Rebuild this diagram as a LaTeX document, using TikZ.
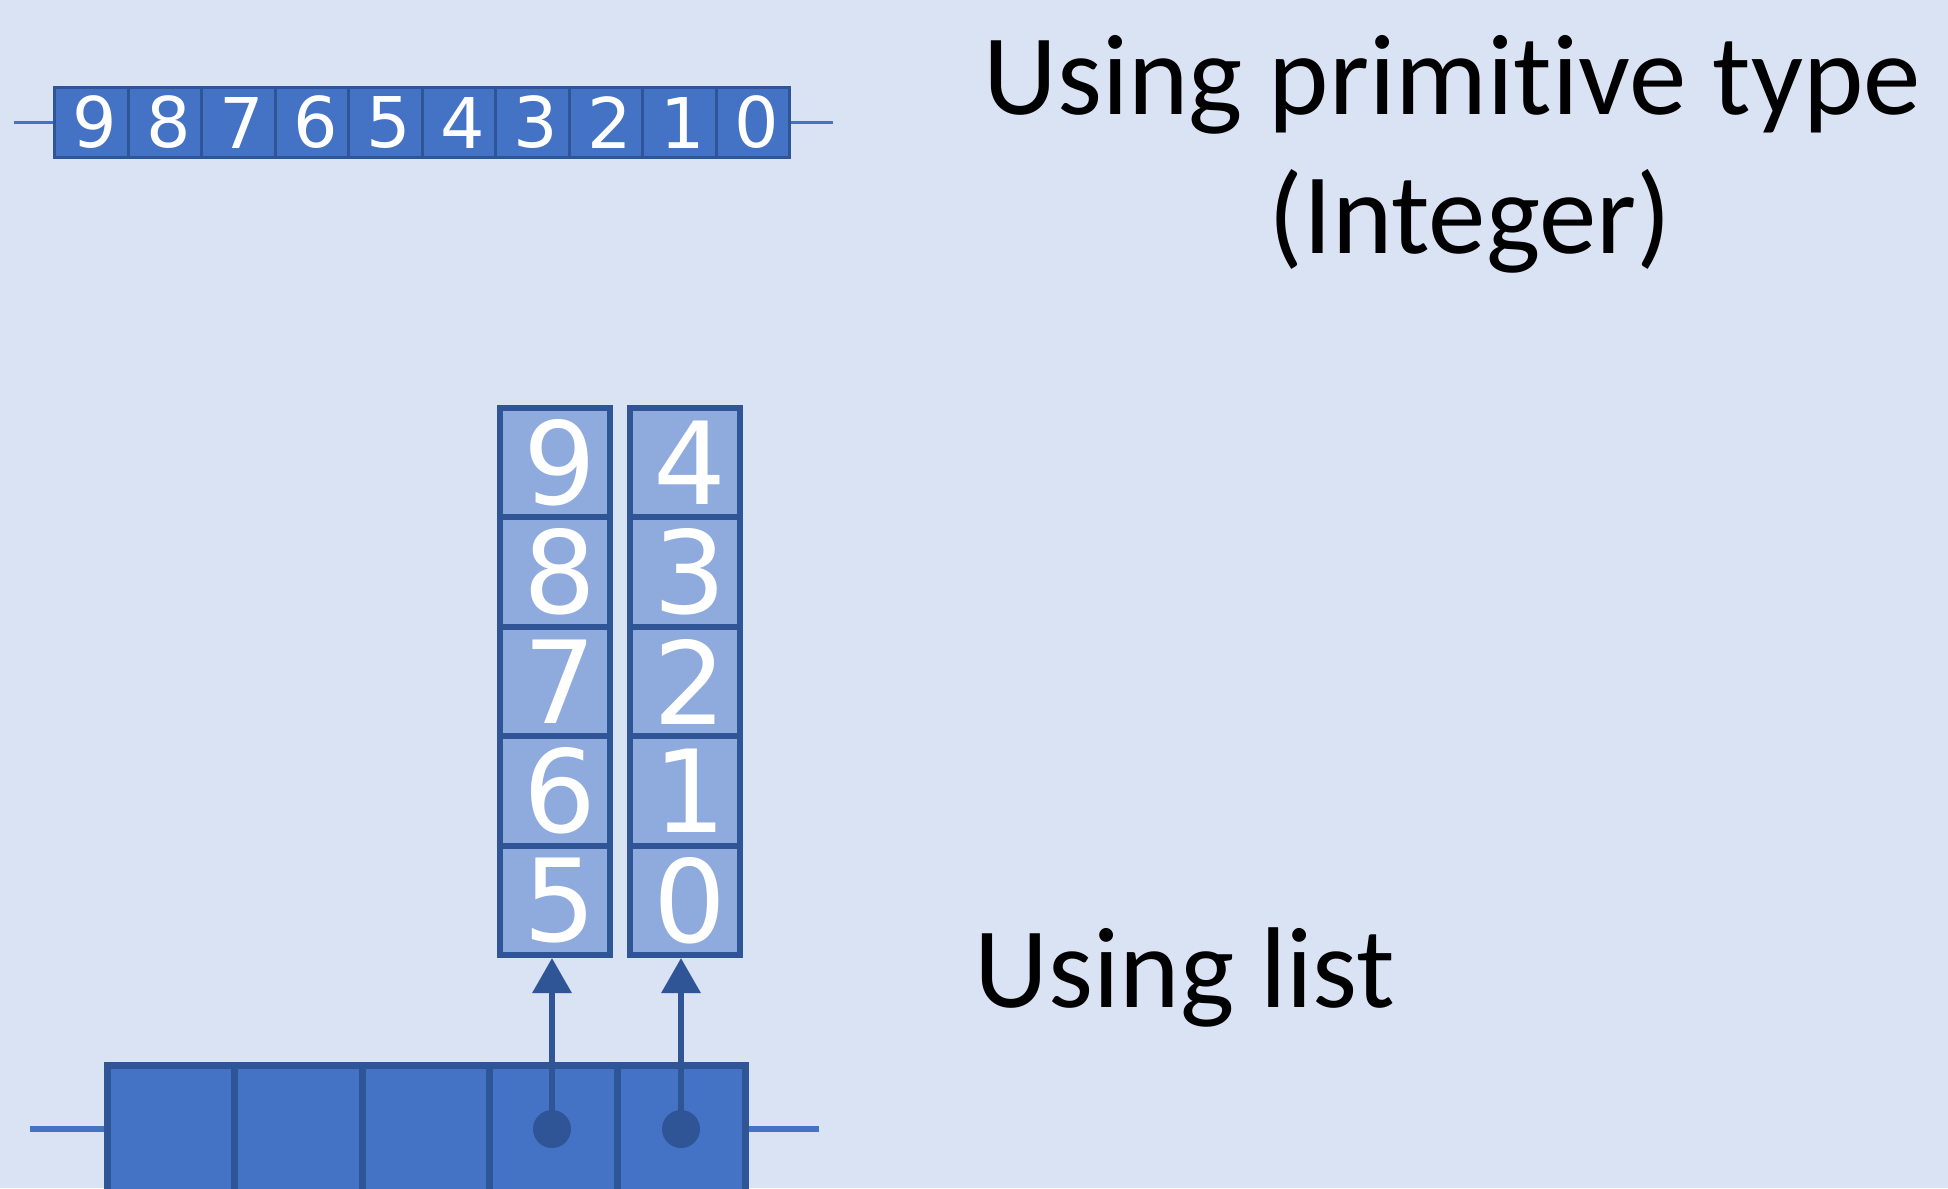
\documentclass[tikz,border=0pt]{standalone}
\usepackage{fontspec}
\usepackage{tikz}
\usepackage{xcolor}
\usetikzlibrary{arrows.meta,calc}
\newfontfamily\labelfont[Ligatures=NoCommon]{Carlito}
\newfontfamily\digitfont{DejaVu Sans}
\definecolor{bgcolor}{RGB}{218,227,243}
\definecolor{boxblue}{RGB}{68,114,196}
\definecolor{boxborder}{RGB}{47,85,151}
\definecolor{boxlight}{RGB}{143,170,220}

\begin{document}
\begin{tikzpicture}[
    >={Triangle[length=0.35cm, width=0.38cm]},
    bitcell/.style={draw=boxborder, fill=boxblue, line width=0.03cm, minimum width=0.735cm, minimum height=0.70cm, inner sep=0pt, text=white, font=\digitfont\fontsize{19.9}{24}\selectfont},
    digitcell/.style={draw=boxborder, fill=boxlight, line width=0.06cm, minimum width=1.10cm, minimum height=1.094cm, inner sep=0pt, text=white, font=\digitfont\fontsize{32.6}{38}\selectfont},
    listcell/.style={draw=boxborder, fill=boxblue, line width=0.07cm, minimum width=1.276cm, minimum height=1.28cm, inner sep=0pt},
    dot/.style={circle, fill=boxborder, minimum size=0.38cm, inner sep=0pt},
    caption/.style={inner sep=0pt, text=black, font=\labelfont\fontsize{32.7}{39}\selectfont}
]

% Background
\fill[bgcolor] (0,0) rectangle (19.48,-11.88);
\useasboundingbox (0,0) rectangle (19.48,-11.88);
\clip (0,0) rectangle (19.48,-11.88);

% Column positions
\def\colL{5.55}
\def\colR{6.845}

% Integer as a row of digits
\foreach \d [count=\i] in {9,8,7,6,5,4,3,2,1,0} {
    \node[bitcell] (b\i) at ({0.545+0.735*(\i-0.5)}, -1.225) {\kern0.07cm\d};
}
\coordinate (wl) at (0.14,-1.225);
\coordinate (wr) at (8.33,-1.225);
\draw[boxblue, line width=0.03cm] (wl) -- (b1.west);
\draw[boxblue, line width=0.03cm] (b10.east) -- (wr);

% Captions
\node[caption, anchor=base] (title1) at (14.52,-1.14) {Using primitive type};
\node[caption, anchor=base] (title2) at (14.70,-2.53) {(Integer)};
\node[caption, anchor=base west] (listlabel) at (9.74,-10.07) {Using list};

% Two stacks of digits
\foreach \d [count=\i] in {9,8,7,6,5} {
    \node[digitcell] (l\i) at (\colL, {-4.08-1.094*(\i-0.5)}) {\kern0.1cm\d};
}
\foreach \d [count=\i] in {4,3,2,1,0} {
    \node[digitcell] (r\i) at (\colR, {-4.08-1.094*(\i-0.5)}) {\kern0.1cm\d};
}

% List slots
\foreach \i in {1,...,5} {
    \node[listcell] (s\i) at ({1.07+1.276*(\i-0.5)}, -11.29) {};
}
\coordinate (ll) at (0.30,-11.29);
\coordinate (lr) at (8.19,-11.29);
\draw[boxblue, line width=0.065cm] (ll) -- (s1.west);
\draw[boxblue, line width=0.065cm] (s5.east) -- (lr);

% References into the stacks
\node[dot] (p4) at (5.52,-11.29) {};
\node[dot] (p5) at (6.81,-11.29) {};
\draw[boxborder, line width=0.065cm, ->] (p4.center) -- (p4.center |- l5.south);
\draw[boxborder, line width=0.065cm, ->] (p5.center) -- (p5.center |- r5.south);

\end{tikzpicture}
\end{document}
